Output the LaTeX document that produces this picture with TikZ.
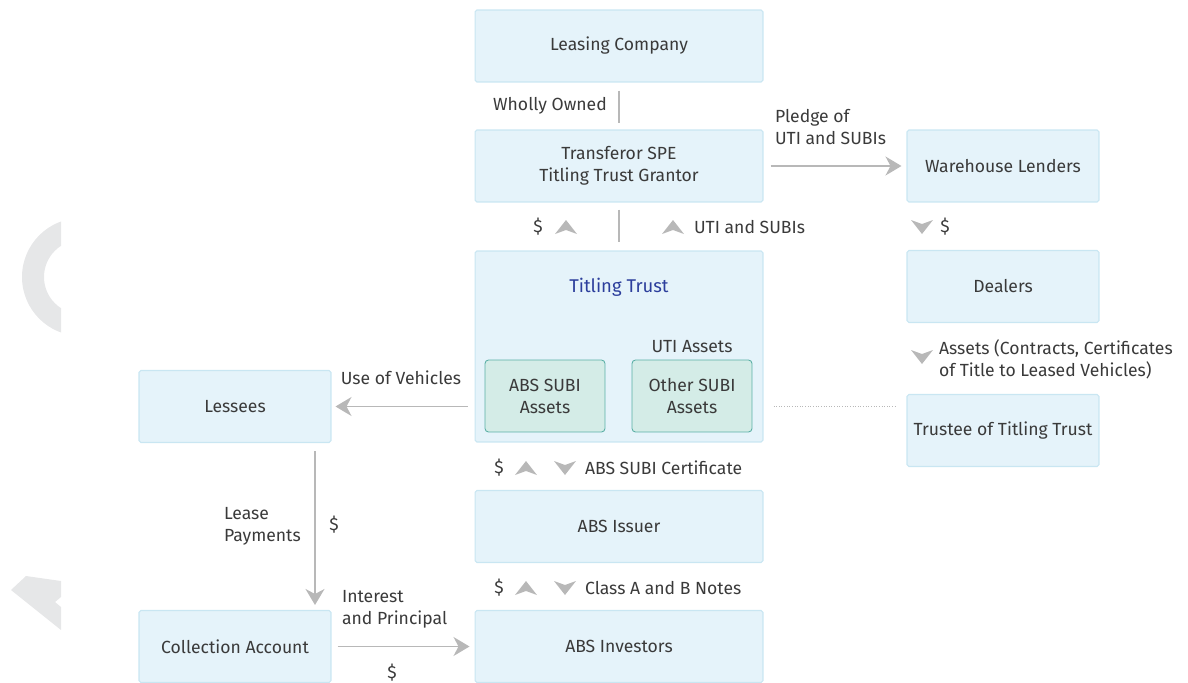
\documentclass[tikz,border=0pt]{standalone}
\usepackage{fontspec}
\setmainfont{Fira Sans}
\usepackage{tikz}
\usetikzlibrary{arrows.meta, positioning, calc}
\definecolor{boxfill}{HTML}{E5F3FA}
\definecolor{boxline}{HTML}{C9E6F2}
\definecolor{subfill}{HTML}{D4ECE7}
\definecolor{subline}{HTML}{5AAFA5}
\definecolor{txt}{HTML}{3A3A3A}
\definecolor{ttblue}{HTML}{2C3E9C}
\definecolor{arrgrey}{HTML}{B8B8B8}
\definecolor{wmgrey}{HTML}{E6E7E8}

% small grey chevrons next to the flow labels
\newcommand{\upchev}[1]{\fill[arrgrey] (#1) +(0,-7) -- +(11,7) -- +(0,3) -- +(-11,7) -- cycle;}
\newcommand{\downchev}[1]{\fill[arrgrey] (#1) +(0,7) -- +(11,-7) -- +(0,-3) -- +(-11,-7) -- cycle;}

\begin{document}
\begin{tikzpicture}[
  x=0.02cm, y=-0.02cm,
  font=\fontsize{10}{12.5}\selectfont, text=txt,
  box/.style={draw=boxline, fill=boxfill, rounded corners=1pt, minimum width=5.76cm, minimum height=1.44cm, align=center, line width=0.6pt},
  sbox/.style={box, minimum width=3.84cm},
  subbox/.style={draw=subline, fill=subfill, rounded corners=2pt, minimum width=2.4cm, minimum height=1.44cm, align=center, line width=0.5pt},
  lbl/.style={inner sep=1pt},
  conn/.style={arrgrey, line width=0.7pt},
  arr/.style={conn, -{Stealth[length=3.2mm, width=3.8mm, inset=1mm]}}
]
\useasboundingbox (0,0) rectangle (1188,683);

% watermark fragments
\begin{scope}
  \clip (0,0) rectangle (61,683);
  \fill[wmgrey, even odd rule] (81,277) circle[radius=59] (81,277) circle[radius=37];
  \fill[wmgrey] (26,576) -- (61,581) -- (61,597) -- (55,602) -- (61,607) -- (61,630) -- (11,590) -- cycle;
\end{scope}

% boxes
\node[box] (lc) at (619,46) {Leasing Company};
\node[box] (tspe) at (619,166) {Transferor SPE\\Titling Trust Grantor};
\node[sbox] (wl) at (1003,166) {Warehouse Lenders};
\node[box, minimum height=3.82cm] (tt) at (619,346.5) {};
\node[text=ttblue, font=\fontsize{10.5}{12.5}\selectfont] (ttname) at (619,287) {Titling Trust};
\node[subbox] (abssubi) at (545,396) {ABS SUBI\\Assets};
\node[subbox] (othsubi) at (692,396) {Other SUBI\\Assets};
\node[lbl] (uti) at (692,347) {UTI Assets};
\node[sbox] (dealers) at (1003,286.5) {Dealers};
\node[sbox] (trustee) at (1003,430.5) {Trustee of Titling Trust};
\node[sbox] (lessees) at (235,406.5) {Lessees};
\node[box] (issuer) at (619,526.5) {ABS Issuer};
\node[sbox] (coll) at (235,646.5) {Collection Account};
\node[box] (inv) at (619,646.5) {ABS Investors};

% connectors
\draw[conn, shorten <=1.6mm, shorten >=1.2mm] (lc) -- (tspe);
\draw[conn, shorten <=1.4mm, shorten >=1.6mm] (tspe) -- (tt);
\draw[arr, shorten <=1.4mm, shorten >=1mm] (tspe) -- (wl);
\draw[arr, shorten <=1.4mm, shorten >=0.8mm] (tt.west |- lessees) -- (lessees);
\draw[arr, shorten <=1.6mm, shorten >=1mm] ($(lessees.south)+(80,0)$) -- ($(coll.north)+(80,0)$);
\draw[arr, shorten <=1.2mm, shorten >=1mm] (coll) -- (inv);
\draw[arrgrey, densely dotted, line width=0.5pt, shorten <=2mm, shorten >=2mm] (tt.east |- lessees) -- (trustee.west |- lessees);

% labels
\node[lbl] (owned) at (550,106) {Wholly Owned};
\node[lbl, anchor=west, align=left] (pledge) at (773,127) {Pledge of\\UTI and SUBIs};
\node[lbl] (d1) at (538,227) {\$};
\upchev{566,227}
\upchev{673,227}
\node[lbl, anchor=west] (utisubi) at (692,227) {UTI and SUBIs};
\downchev{922,227}
\node[lbl] (d2) at (945,227) {\$};
\downchev{922,357}
\node[lbl, anchor=west, align=left] (assets) at (937,359) {Assets (Contracts, Certificates\\of Title to Leased Vehicles)};
\node[lbl] (use) at (401,378) {Use of Vehicles};
\node[lbl] (d3) at (499,468) {\$};
\upchev{526,468}
\downchev{565,468}
\node[lbl, anchor=west] (cert) at (583,468) {ABS SUBI Certificate};
\node[lbl] (d4) at (499,588) {\$};
\upchev{526,588}
\downchev{565,588}
\node[lbl, anchor=west] (notes) at (583,588) {Class A and B Notes};
\node[lbl, anchor=west, align=left] (lease) at (222,526) {Lease\\Payments};
\node[lbl] (d5) at (334,525) {\$};
\node[lbl, anchor=west, align=left] (intp) at (340,609) {Interest\\and Principal};
\node[lbl] (d6) at (392,673) {\$};
\end{tikzpicture}
\end{document}
